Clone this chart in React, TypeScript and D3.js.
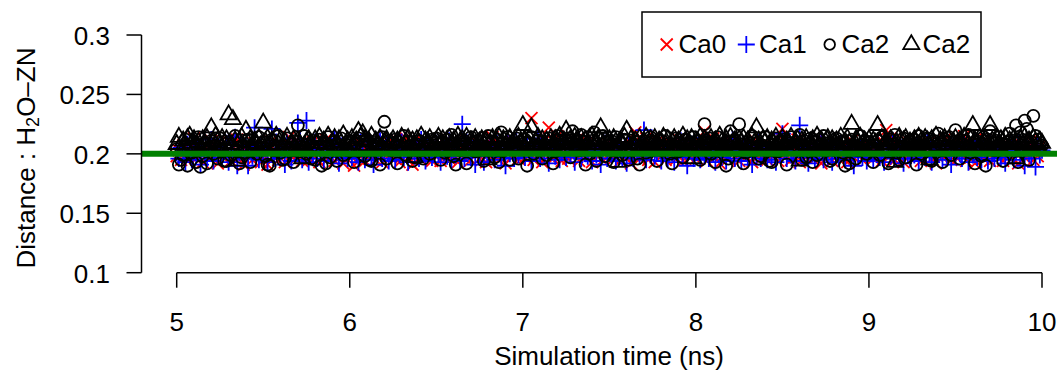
import React from 'react';
import * as d3 from 'd3';

// Sampling of the trajectory: one frame every 12.5 ps from 5 ns on
const TIME_START = 5;
const TIME_STEP = 0.0125;

const xTicks = [5, 6, 7, 8, 9, 10];
const yTicks = [0.1, 0.15, 0.2, 0.25, 0.3];
const yTickLabels = ['0.1', '0.15', '0.2', '0.25', '0.3'];
const referenceDistance = 0.2;

// Distance (nm) per frame for each calcium ion
const ca0 = [
  0.198, 0.203, 0.195, 0.207, 0.201, 0.194, 0.209, 0.199, 0.213, 0.196, 0.204, 0.200, 0.193, 0.206, 0.202, 0.197, 0.211, 0.199, 0.205, 0.192,
  0.203, 0.208, 0.196, 0.201, 0.210, 0.194, 0.205, 0.199, 0.212, 0.197, 0.202, 0.191, 0.207, 0.200, 0.204, 0.195, 0.209, 0.198, 0.203, 0.193,
  0.206, 0.199, 0.191, 0.204, 0.211, 0.197, 0.202, 0.195, 0.208, 0.200, 0.193, 0.205, 0.214, 0.198, 0.203, 0.196, 0.201, 0.209, 0.194, 0.207,
  0.200, 0.195, 0.204, 0.210, 0.197, 0.202, 0.193, 0.206, 0.199, 0.212, 0.196, 0.203, 0.208, 0.194, 0.201, 0.205, 0.198, 0.192, 0.207, 0.203,
  0.199, 0.205, 0.190, 0.202, 0.196, 0.209, 0.201, 0.194, 0.207, 0.198, 0.203, 0.211, 0.195, 0.200, 0.206, 0.193, 0.204, 0.199, 0.210, 0.197,
  0.202, 0.196, 0.208, 0.193, 0.205, 0.200, 0.213, 0.197, 0.203, 0.191, 0.207, 0.199, 0.204, 0.195, 0.210, 0.201, 0.198, 0.206, 0.194, 0.202,
  0.207, 0.199, 0.194, 0.205, 0.201, 0.212, 0.196, 0.203, 0.198, 0.208, 0.193, 0.200, 0.206, 0.197, 0.211, 0.202, 0.195, 0.204, 0.199, 0.209,
  0.196, 0.203, 0.200, 0.193, 0.207, 0.201, 0.214, 0.198, 0.204, 0.195, 0.209, 0.200, 0.192, 0.206, 0.203, 0.197, 0.210, 0.201, 0.196, 0.205,
  0.209, 0.197, 0.203, 0.201, 0.230, 0.195, 0.206, 0.199, 0.204, 0.193, 0.211, 0.200, 0.222, 0.207, 0.196, 0.202, 0.215, 0.198, 0.194, 0.205,
  0.201, 0.196, 0.208, 0.203, 0.199, 0.212, 0.194, 0.206, 0.201, 0.197, 0.210, 0.200, 0.193, 0.205, 0.204, 0.198, 0.207, 0.195, 0.202, 0.209,
  0.199, 0.203, 0.196, 0.211, 0.200, 0.194, 0.207, 0.202, 0.197, 0.205, 0.192, 0.209, 0.218, 0.201, 0.196, 0.204, 0.199, 0.213, 0.195, 0.206,
  0.200, 0.193, 0.210, 0.204, 0.198, 0.207, 0.195, 0.202, 0.209, 0.199, 0.203, 0.196, 0.212, 0.200, 0.194, 0.206, 0.201, 0.197, 0.208, 0.203,
  0.196, 0.205, 0.199, 0.201, 0.219, 0.194, 0.207, 0.200, 0.213, 0.197, 0.204, 0.192, 0.208, 0.199, 0.205, 0.196, 0.211, 0.202, 0.198, 0.206,
  0.194, 0.203, 0.209, 0.197, 0.201, 0.206, 0.193, 0.212, 0.199, 0.204, 0.196, 0.208, 0.200, 0.195, 0.207, 0.202, 0.198, 0.210, 0.194, 0.203,
  0.221, 0.197, 0.204, 0.209, 0.195, 0.202, 0.199, 0.212, 0.193, 0.206, 0.201, 0.197, 0.208, 0.203, 0.196, 0.210, 0.199, 0.205, 0.192, 0.207,
  0.203, 0.198, 0.206, 0.194, 0.210, 0.201, 0.196, 0.205, 0.200, 0.208, 0.193, 0.202, 0.211, 0.197, 0.204, 0.199, 0.207, 0.195, 0.203, 0.200,
  0.207, 0.201, 0.196, 0.204, 0.198, 0.203, 0.194, 0.209, 0.220, 0.197, 0.213, 0.202, 0.195, 0.206, 0.199, 0.204, 0.193, 0.211, 0.198, 0.201,
  0.205, 0.197, 0.208, 0.200, 0.194, 0.206, 0.202, 0.199, 0.210, 0.196, 0.203, 0.192, 0.207, 0.201, 0.197, 0.212, 0.199, 0.204, 0.195, 0.209,
  0.203, 0.196, 0.208, 0.200, 0.215, 0.194, 0.201, 0.197, 0.205, 0.192, 0.209, 0.199, 0.203, 0.196, 0.212, 0.200, 0.194, 0.207, 0.202, 0.198,
  0.201, 0.206, 0.194, 0.203, 0.199, 0.210, 0.196, 0.204, 0.200, 0.192, 0.208, 0.202, 0.197, 0.205, 0.199, 0.211, 0.195, 0.203, 0.198, 0.206,
  0.204,
];

const ca1 = [
  0.201, 0.196, 0.205, 0.199, 0.193, 0.208, 0.202, 0.195, 0.210, 0.198, 0.204, 0.191, 0.207, 0.200, 0.196, 0.203, 0.212, 0.194, 0.206, 0.199,
  0.205, 0.197, 0.202, 0.209, 0.193, 0.204, 0.199, 0.214, 0.190, 0.201, 0.207, 0.196, 0.206, 0.190, 0.203, 0.198, 0.222, 0.200, 0.195, 0.207,
  0.199, 0.204, 0.193, 0.208, 0.221, 0.196, 0.210, 0.202, 0.197, 0.205, 0.191, 0.209, 0.200, 0.194, 0.206, 0.203, 0.226, 0.212, 0.195, 0.201,
  0.228, 0.193, 0.203, 0.199, 0.210, 0.196, 0.205, 0.202, 0.194, 0.208, 0.200, 0.205, 0.197, 0.213, 0.201, 0.192, 0.206, 0.199, 0.204, 0.196,
  0.202, 0.197, 0.206, 0.199, 0.193, 0.210, 0.201, 0.195, 0.207, 0.203, 0.198, 0.191, 0.205, 0.200, 0.211, 0.196, 0.202, 0.208, 0.194, 0.201,
  0.206, 0.195, 0.203, 0.199, 0.210, 0.197, 0.204, 0.193, 0.202, 0.208, 0.198, 0.205, 0.196, 0.212, 0.200, 0.194, 0.207, 0.203, 0.197, 0.204,
  0.209, 0.200, 0.193, 0.206, 0.202, 0.198, 0.211, 0.195, 0.203, 0.199, 0.207, 0.194, 0.225, 0.196, 0.210, 0.202, 0.197, 0.205, 0.191, 0.204,
  0.199, 0.206, 0.193, 0.203, 0.198, 0.208, 0.201, 0.195, 0.209, 0.204, 0.197, 0.202, 0.190, 0.209, 0.200, 0.205, 0.196, 0.211, 0.199, 0.203,
  0.203, 0.197, 0.208, 0.201, 0.194, 0.206, 0.200, 0.213, 0.196, 0.204, 0.199, 0.207, 0.192, 0.202, 0.209, 0.198, 0.205, 0.195, 0.201, 0.210,
  0.197, 0.204, 0.199, 0.207, 0.193, 0.202, 0.211, 0.196, 0.205, 0.200, 0.198, 0.208, 0.194, 0.203, 0.199, 0.206, 0.191, 0.201, 0.209, 0.196,
  0.203, 0.199, 0.206, 0.194, 0.201, 0.208, 0.197, 0.204, 0.192, 0.210, 0.200, 0.196, 0.205, 0.202, 0.198, 0.207, 0.220, 0.195, 0.203, 0.199,
  0.205, 0.198, 0.202, 0.209, 0.194, 0.203, 0.200, 0.196, 0.207, 0.201, 0.193, 0.206, 0.199, 0.211, 0.197, 0.204, 0.190, 0.202, 0.208, 0.196,
  0.201, 0.207, 0.195, 0.203, 0.198, 0.210, 0.196, 0.204, 0.200, 0.193, 0.206, 0.202, 0.197, 0.209, 0.194, 0.203, 0.199, 0.212, 0.196, 0.205,
  0.200, 0.194, 0.208, 0.202, 0.197, 0.205, 0.191, 0.203, 0.199, 0.210, 0.196, 0.204, 0.201, 0.195, 0.207, 0.198, 0.203, 0.193, 0.209, 0.200,
  0.217, 0.203, 0.196, 0.206, 0.199, 0.202, 0.194, 0.209, 0.224, 0.201, 0.197, 0.205, 0.192, 0.208, 0.200, 0.196, 0.204, 0.199, 0.211, 0.195,
  0.202, 0.198, 0.207, 0.193, 0.204, 0.200, 0.196, 0.209, 0.201, 0.195, 0.206, 0.203, 0.198, 0.190, 0.205, 0.199, 0.208, 0.197, 0.202, 0.194,
  0.206, 0.200, 0.195, 0.203, 0.209, 0.197, 0.201, 0.193, 0.207, 0.204, 0.198, 0.211, 0.196, 0.202, 0.199, 0.205, 0.192, 0.208, 0.200, 0.196,
  0.203, 0.199, 0.207, 0.194, 0.201, 0.205, 0.197, 0.210, 0.200, 0.193, 0.204, 0.198, 0.206, 0.202, 0.195, 0.209, 0.199, 0.203, 0.191, 0.207,
  0.198, 0.204, 0.200, 0.196, 0.208, 0.202, 0.193, 0.206, 0.199, 0.211, 0.197, 0.203, 0.195, 0.205, 0.201, 0.194, 0.209, 0.200, 0.196, 0.204,
  0.201, 0.197, 0.206, 0.192, 0.203, 0.199, 0.208, 0.195, 0.202, 0.210, 0.198, 0.204, 0.190, 0.206, 0.200, 0.196, 0.203, 0.189, 0.207, 0.199,
  0.203,
];

const ca2Circle = [
  0.204, 0.191, 0.195, 0.199, 0.212, 0.190, 0.206, 0.201, 0.210, 0.193, 0.214, 0.189, 0.198, 0.209, 0.192, 0.205, 0.211, 0.200, 0.207, 0.196,
  0.213, 0.202, 0.194, 0.194, 0.210, 0.199, 0.205, 0.215, 0.203, 0.192, 0.197, 0.207, 0.201, 0.212, 0.193, 0.206, 0.209, 0.200, 0.214, 0.205,
  0.210, 0.198, 0.191, 0.190, 0.212, 0.203, 0.206, 0.215, 0.201, 0.195, 0.196, 0.213, 0.204, 0.208, 0.193, 0.211, 0.224, 0.202, 0.206, 0.215,
  0.200, 0.208, 0.196, 0.211, 0.195, 0.206, 0.212, 0.190, 0.209, 0.192, 0.214, 0.197, 0.207, 0.210, 0.194, 0.205, 0.213, 0.199, 0.208, 0.203,
  0.211, 0.206, 0.193, 0.209, 0.213, 0.203, 0.207, 0.198, 0.212, 0.195, 0.194, 0.210, 0.205, 0.208, 0.191, 0.214, 0.227, 0.196, 0.211, 0.203,
  0.209, 0.212, 0.192, 0.207, 0.204, 0.215, 0.199, 0.210, 0.206, 0.194, 0.197, 0.208, 0.211, 0.203, 0.196, 0.205, 0.209, 0.200, 0.212, 0.207,
  0.213, 0.204, 0.195, 0.209, 0.201, 0.212, 0.207, 0.216, 0.198, 0.191, 0.205, 0.203, 0.208, 0.211, 0.192, 0.206, 0.214, 0.209, 0.202, 0.211,
  0.207, 0.213, 0.194, 0.209, 0.215, 0.205, 0.210, 0.197, 0.212, 0.193, 0.218, 0.203, 0.208, 0.214, 0.195, 0.209, 0.205, 0.213, 0.196, 0.210,
  0.206, 0.212, 0.190, 0.209, 0.214, 0.200, 0.207, 0.211, 0.204, 0.196, 0.208, 0.199, 0.213, 0.206, 0.192, 0.202, 0.215, 0.208, 0.211, 0.204,
  0.209, 0.213, 0.197, 0.219, 0.208, 0.212, 0.203, 0.216, 0.210, 0.191, 0.214, 0.200, 0.211, 0.218, 0.194, 0.213, 0.204, 0.215, 0.198, 0.210,
  0.207, 0.211, 0.193, 0.214, 0.206, 0.209, 0.199, 0.212, 0.205, 0.195, 0.203, 0.208, 0.210, 0.196, 0.191, 0.207, 0.211, 0.201, 0.209, 0.214,
  0.205, 0.210, 0.194, 0.212, 0.207, 0.203, 0.215, 0.208, 0.200, 0.192, 0.206, 0.213, 0.202, 0.209, 0.197, 0.212, 0.204, 0.210, 0.207, 0.214,
  0.206, 0.211, 0.195, 0.209, 0.225, 0.207, 0.213, 0.200, 0.210, 0.193, 0.214, 0.208, 0.208, 0.204, 0.190, 0.196, 0.219, 0.209, 0.212, 0.203,
  0.225, 0.208, 0.192, 0.201, 0.210, 0.206, 0.215, 0.203, 0.209, 0.196, 0.198, 0.207, 0.214, 0.205, 0.194, 0.193, 0.208, 0.213, 0.202, 0.211,
  0.206, 0.212, 0.191, 0.209, 0.214, 0.204, 0.210, 0.207, 0.216, 0.195, 0.211, 0.197, 0.208, 0.213, 0.193, 0.210, 0.199, 0.212, 0.206, 0.215,
  0.203, 0.209, 0.194, 0.196, 0.208, 0.213, 0.205, 0.210, 0.201, 0.190, 0.207, 0.192, 0.212, 0.206, 0.196, 0.203, 0.215, 0.208, 0.211, 0.200,
  0.210, 0.205, 0.193, 0.207, 0.211, 0.199, 0.214, 0.206, 0.209, 0.192, 0.212, 0.208, 0.216, 0.201, 0.195, 0.206, 0.213, 0.197, 0.209, 0.211,
  0.204, 0.212, 0.191, 0.215, 0.200, 0.210, 0.206, 0.213, 0.195, 0.194, 0.211, 0.204, 0.217, 0.208, 0.193, 0.212, 0.206, 0.214, 0.199, 0.210,
  0.220, 0.208, 0.196, 0.204, 0.211, 0.206, 0.216, 0.201, 0.209, 0.192, 0.205, 0.210, 0.198, 0.214, 0.190, 0.212, 0.219, 0.209, 0.203, 0.211,
  0.214, 0.206, 0.194, 0.208, 0.210, 0.217, 0.204, 0.211, 0.224, 0.193, 0.218, 0.207, 0.228, 0.221, 0.195, 0.210, 0.232, 0.215, 0.212, 0.206,
  0.207,
];

const ca2Triangle = [
  0.208, 0.214, 0.203, 0.211, 0.206, 0.213, 0.215, 0.209, 0.212, 0.207, 0.210, 0.204, 0.212, 0.208, 0.213, 0.206, 0.222, 0.210, 0.215, 0.211,
  0.207, 0.213, 0.209, 0.212, 0.233, 0.208, 0.229, 0.211, 0.194, 0.210, 0.214, 0.206, 0.220, 0.209, 0.212, 0.205, 0.211, 0.208, 0.213, 0.207,
  0.226, 0.210, 0.213, 0.207, 0.211, 0.204, 0.215, 0.208, 0.212, 0.206, 0.210, 0.214, 0.203, 0.209, 0.212, 0.205, 0.211, 0.208, 0.196, 0.207,
  0.210, 0.212, 0.209, 0.206, 0.212, 0.209, 0.214, 0.203, 0.211, 0.208, 0.215, 0.205, 0.210, 0.213, 0.207, 0.212, 0.209, 0.216, 0.204, 0.211,
  0.208, 0.213, 0.206, 0.211, 0.219, 0.214, 0.217, 0.212, 0.207, 0.210, 0.215, 0.205, 0.211, 0.208, 0.213, 0.206, 0.210, 0.212, 0.204, 0.209,
  0.212, 0.207, 0.211, 0.209, 0.214, 0.206, 0.210, 0.213, 0.208, 0.211, 0.197, 0.212, 0.209, 0.215, 0.207, 0.211, 0.210, 0.213, 0.206, 0.209,
  0.211, 0.214, 0.208, 0.212, 0.206, 0.210, 0.213, 0.209, 0.211, 0.207, 0.215, 0.210, 0.212, 0.208, 0.214, 0.206, 0.211, 0.209, 0.213, 0.207,
  0.210, 0.212, 0.208, 0.211, 0.195, 0.209, 0.213, 0.207, 0.211, 0.214, 0.208, 0.212, 0.206, 0.210, 0.213, 0.209, 0.211, 0.207, 0.214, 0.210,
  0.224, 0.211, 0.208, 0.213, 0.222, 0.207, 0.210, 0.214, 0.208, 0.212, 0.206, 0.211, 0.209, 0.213, 0.207, 0.212, 0.210, 0.215, 0.208, 0.211,
  0.220, 0.209, 0.212, 0.206, 0.214, 0.210, 0.207, 0.213, 0.209, 0.211, 0.208, 0.212, 0.215, 0.206, 0.210, 0.213, 0.222, 0.208, 0.211, 0.209,
  0.212, 0.207, 0.213, 0.210, 0.193, 0.211, 0.209, 0.214, 0.220, 0.208, 0.212, 0.206, 0.211, 0.209, 0.213, 0.207, 0.210, 0.214, 0.208, 0.212,
  0.209, 0.213, 0.207, 0.211, 0.210, 0.214, 0.208, 0.212, 0.206, 0.210, 0.213, 0.209, 0.211, 0.207, 0.215, 0.210, 0.212, 0.208, 0.213, 0.196,
  0.211, 0.209, 0.214, 0.207, 0.212, 0.210, 0.208, 0.213, 0.206, 0.211, 0.209, 0.215, 0.210, 0.207, 0.212, 0.208, 0.214, 0.209, 0.211, 0.206,
  0.212, 0.210, 0.213, 0.208, 0.211, 0.207, 0.214, 0.209, 0.222, 0.211, 0.206, 0.212, 0.210, 0.213, 0.208, 0.211, 0.209, 0.214, 0.207, 0.210,
  0.213, 0.208, 0.211, 0.209, 0.214, 0.206, 0.210, 0.212, 0.194, 0.211, 0.208, 0.213, 0.207, 0.210, 0.212, 0.209, 0.215, 0.207, 0.211, 0.208,
  0.210, 0.213, 0.207, 0.212, 0.209, 0.211, 0.206, 0.214, 0.208, 0.210, 0.213, 0.209, 0.225, 0.207, 0.212, 0.210, 0.214, 0.208, 0.211, 0.209,
  0.212, 0.207, 0.211, 0.209, 0.224, 0.210, 0.213, 0.208, 0.211, 0.206, 0.212, 0.210, 0.193, 0.209, 0.214, 0.207, 0.211, 0.213, 0.208, 0.210,
  0.209, 0.212, 0.207, 0.214, 0.210, 0.208, 0.213, 0.211, 0.195, 0.212, 0.209, 0.215, 0.207, 0.211, 0.210, 0.213, 0.208, 0.212, 0.206, 0.210,
  0.213, 0.209, 0.211, 0.207, 0.214, 0.210, 0.208, 0.212, 0.224, 0.211, 0.209, 0.213, 0.207, 0.210, 0.212, 0.208, 0.224, 0.211, 0.209, 0.213,
  0.207, 0.212, 0.210, 0.214, 0.208, 0.211, 0.209, 0.213, 0.196, 0.210, 0.212, 0.208, 0.214, 0.209, 0.211, 0.207, 0.213, 0.210, 0.208, 0.211,
  0.209,
];

type Shape = 'cross' | 'plus' | 'circle' | 'triangle';

const seriesList: { name: string; values: number[]; shape: Shape; color: string }[] = [
  { name: 'Ca0', values: ca0, shape: 'cross', color: '#ff0000' },
  { name: 'Ca1', values: ca1, shape: 'plus', color: '#0000ff' },
  { name: 'Ca2', values: ca2Circle, shape: 'circle', color: '#000000' },
  { name: 'Ca2', values: ca2Triangle, shape: 'triangle', color: '#000000' },
];

const WIDTH = 1057;
const HEIGHT = 375;
const FONT = '"Liberation Sans", Arial, Helvetica, sans-serif';
const FONT_SIZE = 26;

// Symbol geometry in the style of R's pch 1-4
const R = 6;
const TRI_R = 9.3;
const TRI_XC = 8.05;
const TRI_YC = 4.65;
const PLUS_H = 8.5;
const SW = 1.8;

function Marker({ shape, cx, cy, color, r = R }: { shape: Shape; cx: number; cy: number; color: string; r?: number }) {
  if (shape === 'circle') {
    return <circle cx={cx} cy={cy} r={r} fill="none" stroke={color} strokeWidth={SW} />;
  }
  let d = '';
  if (shape === 'cross') {
    d = `M${cx - R},${cy - R}L${cx + R},${cy + R}M${cx - R},${cy + R}L${cx + R},${cy - R}`;
  } else if (shape === 'plus') {
    d = `M${cx - PLUS_H},${cy}L${cx + PLUS_H},${cy}M${cx},${cy - PLUS_H}L${cx},${cy + PLUS_H}`;
  } else {
    d = `M${cx},${cy - TRI_R}L${cx + TRI_XC},${cy + TRI_YC}L${cx - TRI_XC},${cy + TRI_YC}Z`;
  }
  return <path d={d} fill="none" stroke={color} strokeWidth={SW} strokeLinejoin="miter" />;
}

export default function App() {
  const x = d3.scaleLinear().domain([5, 10]).range([176.7, 1042]);
  const y = d3.scaleLinear().domain([0.1, 0.3]).range([272.7, 35]);
  const plotLeft = 141.5;
  const axisY = 272.7;
  const tickLen = 15;

  const legendItems = [
    { sx: 666.7, tx: 678.5 },
    { sx: 746.3, tx: 759 },
    { sx: 829.7, tx: 841.5 },
    { sx: 911.3, tx: 922.5 },
  ];

  return (
    <svg
      width={WIDTH}
      height={HEIGHT}
      style={{ position: 'absolute', left: 0, top: 0, background: '#fff' }}
      fontFamily={FONT}
      fontSize={FONT_SIZE}
    >
      <rect width={WIDTH} height={HEIGHT} fill="#fff" />

      {/* points */}
      <g>
        {seriesList.map((s, si) => (
          <g key={si}>
            {s.values.map((v, i) => (
              <Marker key={i} shape={s.shape} color={s.color} cx={x(TIME_START + i * TIME_STEP)} cy={y(v)} />
            ))}
          </g>
        ))}
      </g>

      {/* reference line */}
      <line x1={plotLeft} x2={WIDTH} y1={y(referenceDistance)} y2={y(referenceDistance)} stroke="#008000" strokeWidth={6} />

      {/* y axis */}
      <g stroke="#000" strokeWidth={1.5}>
        <line x1={plotLeft} x2={plotLeft} y1={y(0.1)} y2={y(0.3)} />
        {yTicks.map((t) => (
          <line key={t} x1={plotLeft - tickLen} x2={plotLeft} y1={y(t)} y2={y(t)} />
        ))}
      </g>
      {yTicks.map((t, i) => (
        <text key={t} x={110} y={y(t) + 10} textAnchor="end" fill="#000">
          {yTickLabels[i]}
        </text>
      ))}

      {/* x axis */}
      <g stroke="#000" strokeWidth={1.5}>
        <line x1={x(5)} x2={x(10)} y1={axisY} y2={axisY} />
        {xTicks.map((t) => (
          <line key={t} x1={x(t)} x2={x(t)} y1={axisY} y2={axisY + tickLen} />
        ))}
      </g>
      {xTicks.map((t) => (
        <text key={t} x={x(t)} y={330.5} textAnchor="middle" fill="#000">
          {t}
        </text>
      ))}

      {/* axis titles */}
      <text x={609} y={365} textAnchor="middle" fill="#000">
        Simulation time (ns)
      </text>
      <text transform="translate(35,158) rotate(-90)" textAnchor="middle" fill="#000">
        Distance : H
        <tspan baselineShift="-20%" fontSize={18}>2</tspan>
        O–ZN
      </text>

      {/* legend */}
      <rect x={642} y={12} width={339} height={65} fill="#fff" stroke="#000" strokeWidth={1.5} />
      {seriesList.map((s, i) => (
        <g key={i}>
          <Marker shape={s.shape} color={s.color} cx={legendItems[i].sx} cy={44.5} r={5.3} />
          <text x={legendItems[i].tx} y={53} fill="#000">
            {s.name}
          </text>
        </g>
      ))}
    </svg>
  );
}
